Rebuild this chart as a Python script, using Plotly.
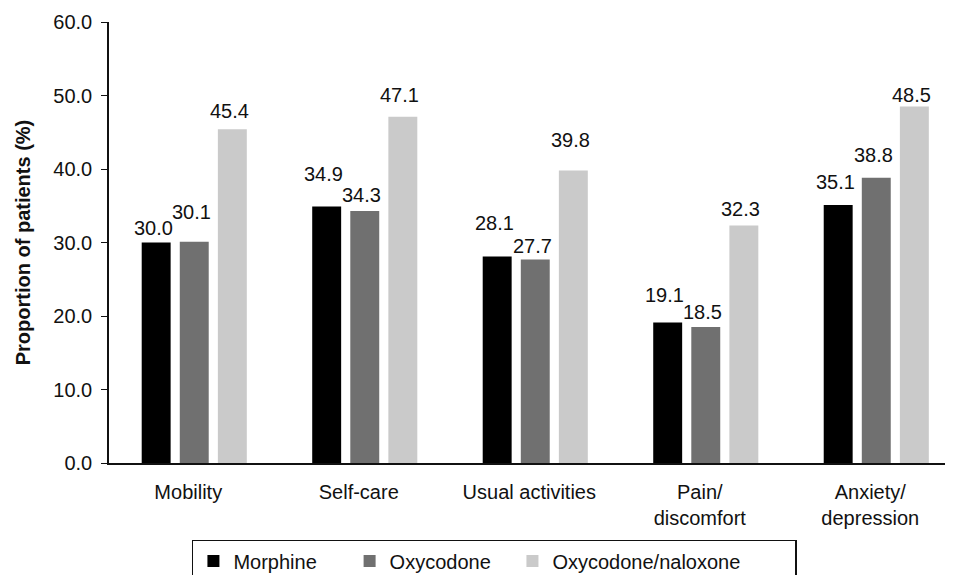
import plotly.graph_objects as go

categories = ["Mobility", "Self-care", "Usual activities", "Pain/<br>discomfort", "Anxiety/<br>depression"]
morphine = [30.0, 34.9, 28.1, 19.1, 35.1]
oxycodone = [30.1, 34.3, 27.7, 18.5, 38.8]
oxy_nal = [45.4, 47.1, 39.8, 32.3, 48.5]
series_names = ["Morphine", "Oxycodone", "Oxycodone/naloxone"]
series_colors = ["#000000", "#707070", "#cacaca"]
y_ticks = [0, 10, 20, 30, 40, 50, 60]

# vertical gap (px) between each value label's baseline and its bar top
label_gaps = [
    [7, 24, 25, 20, 15],
    [22, 8, 5, 7, 15],
    [10, 14, 22, 9, 4],
]

font_family = "Liberation Sans, Arial, sans-serif"
NB = "\u00a0"
legend_pad = [NB * 5, NB * 3, NB * 9]
BARGAP = 0.33
BARGROUPGAP = 0.24

fig = go.Figure()
all_series = [morphine, oxycodone, oxy_nal]
for name, vals, col, pad in zip(series_names, all_series, series_colors, legend_pad):
    fig.add_trace(go.Bar(
        x=categories, y=vals, name=name + pad,
        marker=dict(color=col, line=dict(width=0)),
    ))

slot = (1 - BARGAP) / 3
for s, (vals, gaps) in enumerate(zip(all_series, label_gaps)):
    for i, (v, g) in enumerate(zip(vals, gaps)):
        fig.add_annotation(
            x=i + (s - 1) * slot, y=v, xref="x", yref="y",
            text=f"{v:.1f}", showarrow=False,
            xanchor="center", yanchor="bottom",
            xshift=-3, yshift=g - 5,
            font=dict(size=20, color="#111111", family=font_family),
        )

fig.update_layout(
    width=953, height=575,
    margin=dict(l=101, r=8, t=14, b=120, autoexpand=False),
    paper_bgcolor="white", plot_bgcolor="white",
    barmode="group", bargap=BARGAP, bargroupgap=BARGROUPGAP,
    font=dict(family=font_family, size=20, color="#111111"),
    showlegend=True,
    legend=dict(
        orientation="h", xref="container", yref="container",
        x=0.193, xanchor="left", y=0.0748, yanchor="top",
        bordercolor="#111111", borderwidth=1.5,
        font=dict(size=20, family=font_family, color="#111111"),
        itemwidth=30, traceorder="normal",
    ),
)
fig.update_xaxes(
    range=[-0.5, 4.45], showline=True, linecolor="#111111", linewidth=1.5,
    ticks="", showgrid=False, tickfont=dict(size=20), ticklabelstandoff=10,
    ticklabelshift=-6, automargin=False,
)
fig.update_yaxes(
    range=[0, 60], tickvals=y_ticks, ticktext=[f"{v:.1f}" for v in y_ticks],
    showline=True, linecolor="#111111", linewidth=1.5,
    ticks="outside", ticklen=6, tickcolor="#111111", showgrid=False, zeroline=False,
    tickfont=dict(size=20), ticklabelstandoff=5, automargin=False,
    title=dict(text="<b>Proportion of patients (%)</b>", font=dict(size=20), standoff=17),
)

fig.write_html("out.html")
